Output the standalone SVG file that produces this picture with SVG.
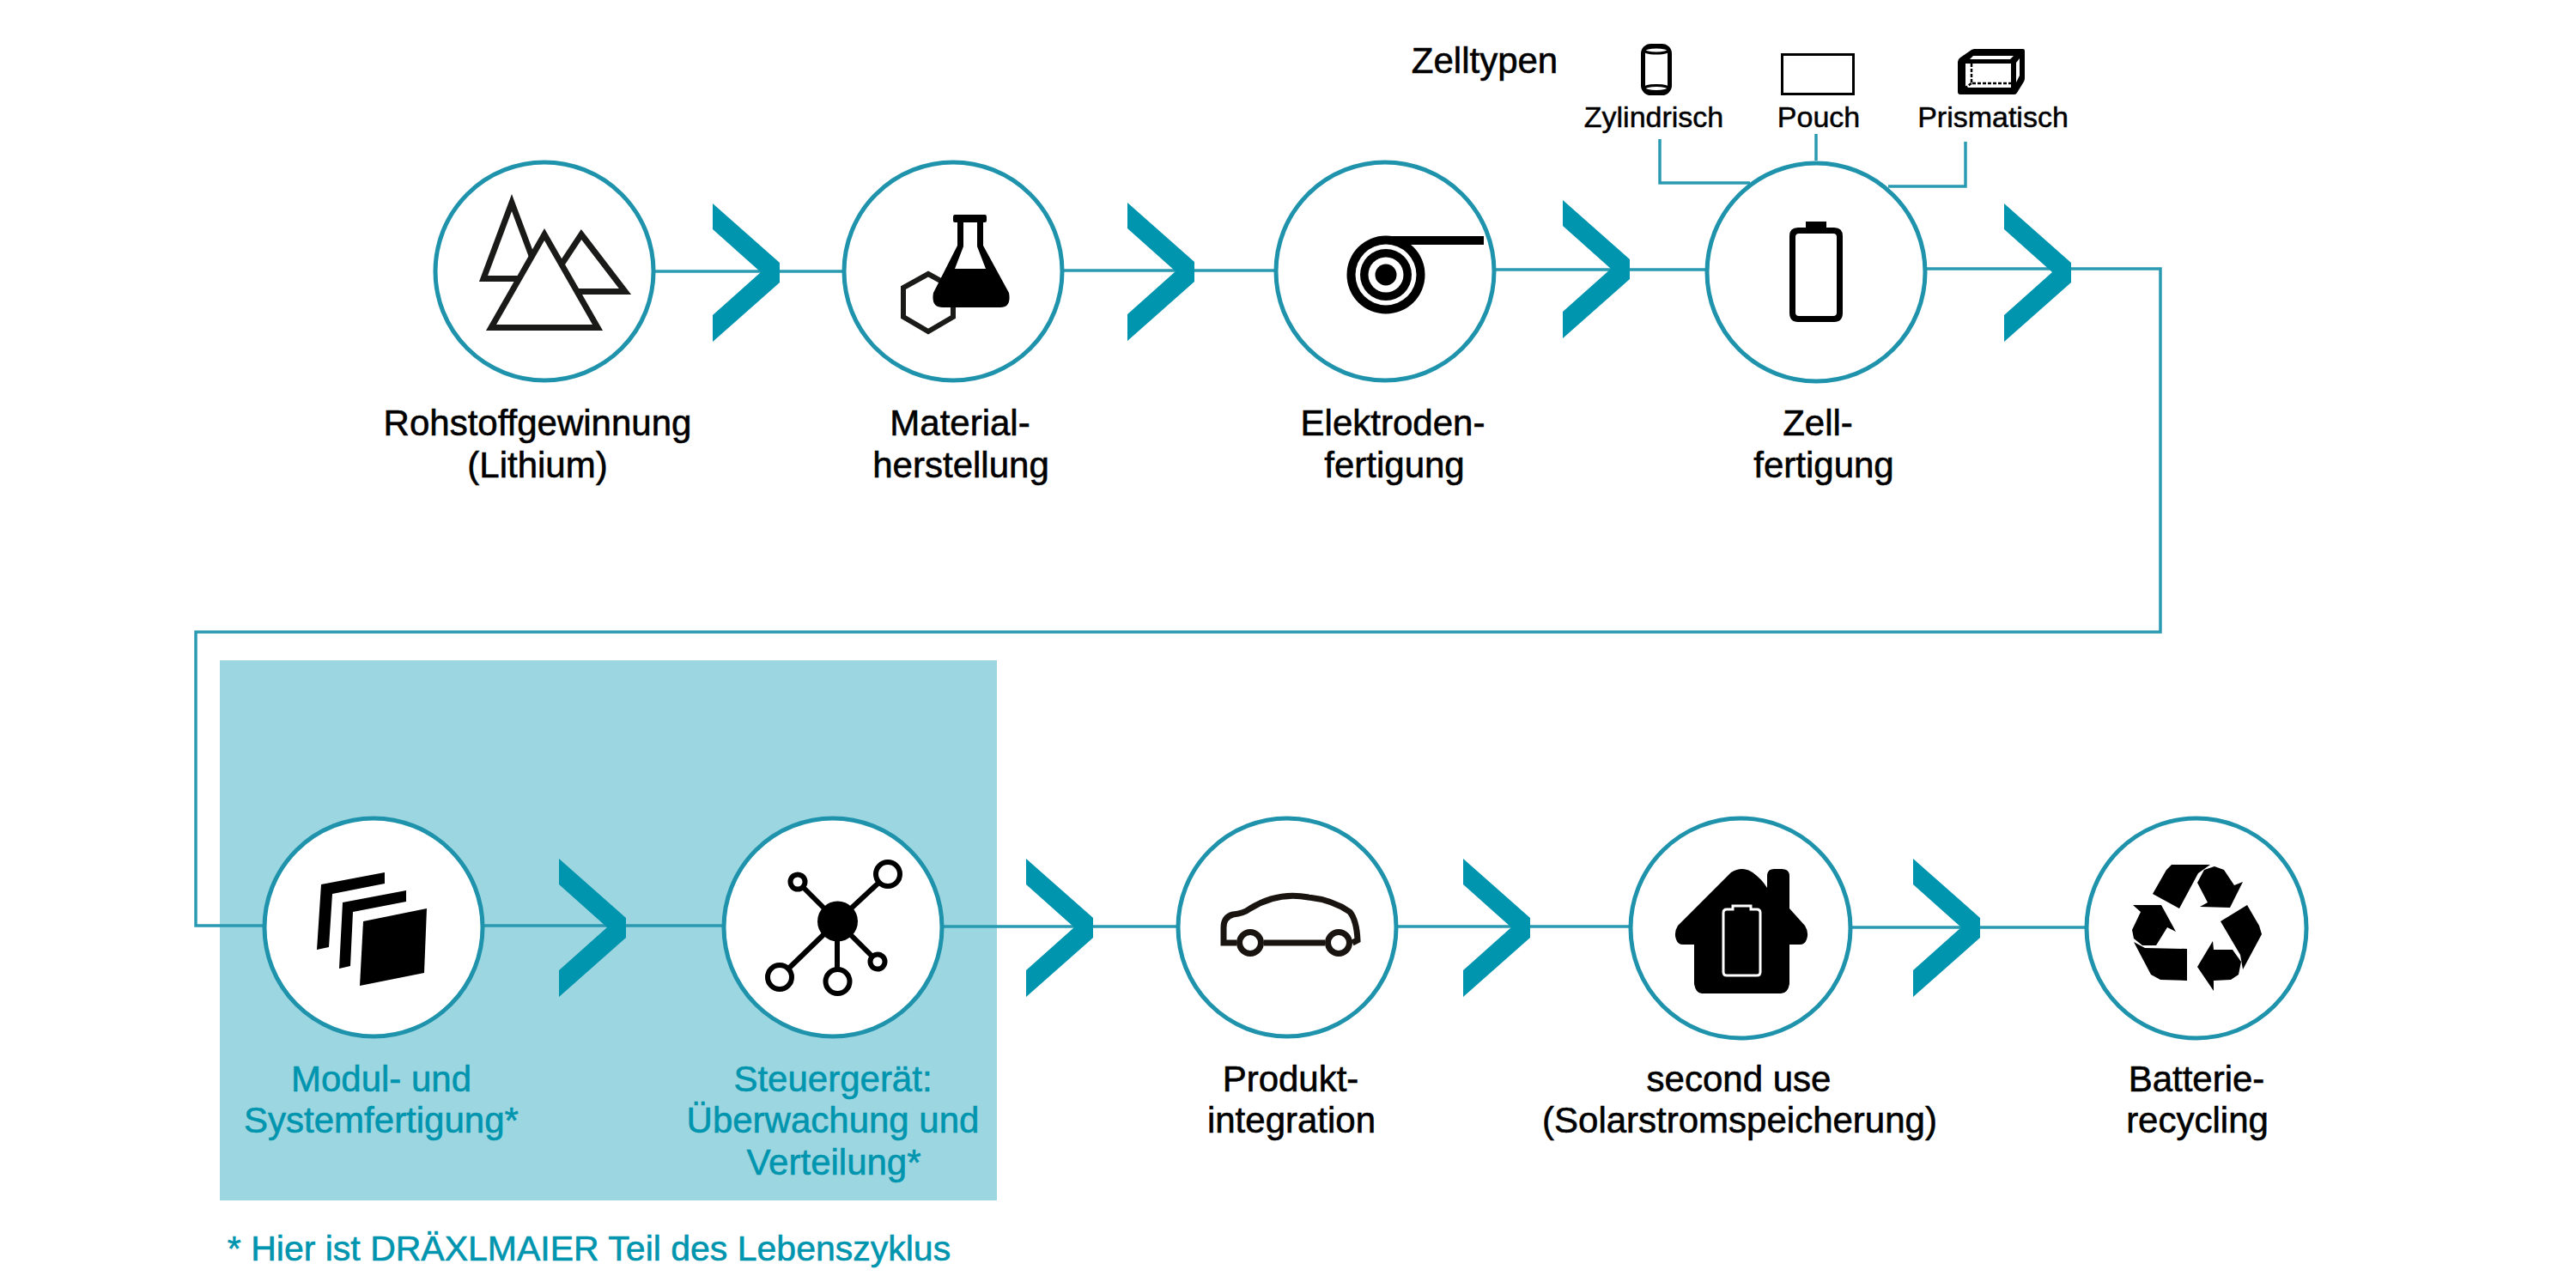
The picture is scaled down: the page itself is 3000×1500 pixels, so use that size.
<svg xmlns="http://www.w3.org/2000/svg" width="3000" height="1500" viewBox="0 0 3000 1500">
<style>
text{font-family:"Liberation Sans",Arial,sans-serif;text-anchor:middle}
.l{font-size:42px;fill:#000;stroke:#000;stroke-width:.6}
.t{font-size:42px;fill:#0095AF;stroke:#0095AF;stroke-width:.6}
.f{font-size:41px;fill:#0095AF;stroke:#0095AF;stroke-width:.6}
.s{font-size:34px;fill:#000;stroke:#000;stroke-width:.5}
.ring{fill:#fff;stroke:#1F93AC;stroke-width:5}
.line{fill:none;stroke:#2A9AB2;stroke-width:3.500}
.chev{fill:#0095AF}
.ol{fill:#fff;stroke:#1a1a18;stroke-width:7;stroke-miterlimit:12}
.k{fill:#000}
.ks{fill:#fff;stroke:#000}
</style>
<defs>
<polygon id="c" class="chev" points="0,-80 78,-11 78,12 0,81 0,50 56,0 0,-50"/>
</defs>
<rect id="highlight" x="256" y="769" width="905" height="629" fill="#9CD6E0"/>
<g id="connectors">
<path class="line" d="M762 316H982M1238 315H1488M1741 314H1988M2243 313H2516V736H228V1078H308M562 1078H842M1097 1079H1372M1627 1079H1900M2155 1080H2430"/>
<path class="line" d="M1933 162V213H2038M2115 156V187M2289 165V217H2199"/>
<use href="#c" x="830" y="317"/>
<use href="#c" x="1313" y="316"/>
<use href="#c" x="1820" y="313"/>
<use href="#c" x="2334" y="317"/>
<use href="#c" x="651" y="1080"/>
<use href="#c" x="1195" y="1080"/>
<use href="#c" x="1704" y="1080"/>
<use href="#c" x="2228" y="1080"/>
</g>
<g id="node-rohstoff">
<circle class="ring" cx="634" cy="316" r="127"/>
<polygon class="ol" points="596,236 563,324.500 629,324.500"/>
<polygon class="ol" points="677,273 728,339.500 633,339.500"/>
<polygon class="ol" points="634,273 696,381.500 572,381.500"/>
<text class="l" x="626" y="507">Rohstoffgewinnung</text>
<text class="l" x="626" y="556">(Lithium)</text>
</g>
<g id="node-material">
<circle class="ring" cx="1110" cy="316" r="127"/>
<polygon points="1081,319 1110,335 1110,369 1081,386 1052,369 1052,335" fill="none" stroke="#1a1a18" stroke-width="6"/>
<path class="k" d="M1112 250H1147Q1149 250 1149 253V257Q1149 259 1147 259H1145V286L1175 341Q1178 358 1165 358H1098Q1084 358 1087 341L1115 286V259H1112Q1110 259 1110 257V253Q1110 250 1112 250Z"/>
<path d="M1122 259H1138V287L1148 313H1112L1122 287Z" fill="#fff"/>
<text class="l" x="1118" y="507">Material-</text>
<text class="l" x="1119" y="556">herstellung</text>
</g>
<g id="node-elektroden">
<circle class="ring" cx="1613" cy="316" r="127"/>
<rect class="k" x="1613" y="275" width="115" height="10"/>
<circle class="k" cx="1614" cy="320" r="45.500"/>
<circle fill="#fff" cx="1614" cy="320" r="35.500"/>
<circle class="k" cx="1614" cy="320" r="30"/>
<circle fill="#fff" cx="1614" cy="320" r="20.500"/>
<circle class="k" cx="1614" cy="320" r="12.500"/>
<text class="l" x="1622" y="507">Elektroden-</text>
<text class="l" x="1624" y="556">fertigung</text>
</g>
<g id="node-zell">
<circle class="ring" cx="2115" cy="317" r="127"/>
<path class="k" d="M2103 258H2127V265H2136Q2146 265 2146 275V364Q2146 375 2136 375H2094Q2084 375 2084 364V275Q2084 265 2094 265H2103Z"/>
<rect x="2091" y="272" width="48" height="96" rx="4" fill="#fff"/>
<text class="l" x="2117" y="507">Zell-</text>
<text class="l" x="2124" y="556">fertigung</text>
</g>
<g id="zelltypen">
<text class="l" x="1729" y="85">Zelltypen</text>
<g id="typ-zylindrisch">
<rect x="1913.500" y="53.500" width="31" height="55" rx="9" fill="#fff" stroke="#000" stroke-width="5"/>
<ellipse cx="1929" cy="58.500" rx="14" ry="3.500" fill="#fff" stroke="#000" stroke-width="3"/>
<ellipse cx="1929" cy="103" rx="14" ry="3.500" fill="#fff" stroke="#000" stroke-width="3"/>
<text class="s" x="1926" y="148">Zylindrisch</text>
</g>
<g id="typ-pouch">
<rect x="2075.500" y="63.500" width="83" height="46" fill="#fff" stroke="#000" stroke-width="3"/>
<text class="s" x="2118" y="148">Pouch</text>
</g>
<g id="typ-prismatisch">
<path class="k" d="M2280 72Q2280 69 2283 67L2296 58Q2298 57 2300 57H2356Q2358 57 2358 59V91Q2358 93 2357 95L2349 108Q2348 110 2346 110H2283Q2280 110 2280 107Z"/>
<rect x="2289" y="74" width="53" height="28" fill="#fff"/>
<polygon points="2298,65 2345,65 2341,69 2294,69" fill="#fff"/>
<polygon points="2348,73 2352,68 2352,88 2348,96" fill="#fff"/>
<path d="M2296 74V97H2342M2296 97L2289 102" fill="none" stroke="#000" stroke-width="2.500" stroke-dasharray="4 2"/>
<text class="s" x="2321" y="148">Prismatisch</text>
</g>
</g>
<g id="node-modul">
<circle class="ring" cx="435" cy="1080" r="127"/>
<polygon class="k" points="374,1030 448,1016 448,1029 387,1041 383,1103 369,1106"/>
<polygon class="k" points="399,1051 473,1037 473,1050 411,1062 408,1125 395,1128"/>
<polygon class="k" points="423,1073 497,1058 494,1133 419,1148"/>
<text class="t" x="444" y="1271">Modul- und</text>
<text class="t" x="444" y="1319">Systemfertigung*</text>
</g>
<g id="node-steuergeraet">
<circle class="ring" cx="970" cy="1080" r="127"/>
<path d="M975 1073L1034 1018M975 1073L929 1027M975 1073L908 1138M975 1073V1143M975 1073L1022 1120" stroke="#000" stroke-width="6" fill="none"/>
<circle class="k" cx="975.500" cy="1073" r="23.500"/>
<circle class="ks" stroke-width="6" cx="1034" cy="1018" r="14"/>
<circle class="ks" stroke-width="6" cx="929" cy="1027" r="8.500"/>
<circle class="ks" stroke-width="6" cx="908" cy="1138" r="14"/>
<circle class="ks" stroke-width="6" cx="975.500" cy="1143" r="14"/>
<circle class="ks" stroke-width="6" cx="1022" cy="1120" r="8.500"/>
<text class="t" x="970" y="1271">Steuergerät:</text>
<text class="t" x="970" y="1319">Überwachung und</text>
<text class="t" x="971" y="1368">Verteilung*</text>
</g>
<g id="node-produkt">
<circle class="ring" cx="1499" cy="1080" r="127"/>
<path d="M1440 1098H1425V1080Q1425 1068 1436 1065Q1448 1064 1456 1058Q1488 1038 1524 1045Q1552 1048 1572 1062Q1580 1072 1581 1095L1575 1098M1472 1098H1543" fill="none" stroke="#1a1410" stroke-width="7"/>
<circle cx="1456" cy="1098" r="12.500" fill="#fff" stroke="#1a1410" stroke-width="7"/>
<circle cx="1559" cy="1098" r="12.500" fill="#fff" stroke="#1a1410" stroke-width="7"/>
<text class="l" x="1503" y="1271">Produkt-</text>
<text class="l" x="1504" y="1319">integration</text>
</g>
<g id="node-secondlife">
<circle class="ring" cx="2027" cy="1081" r="128"/>
<path class="k" d="M2016 1016Q2029 1008 2041 1016Q2052 1024 2058 1034V1020Q2058 1012 2066 1012H2075Q2084 1012 2084 1020V1058L2102 1078Q2107 1086 2104 1094Q2102 1100 2096 1100H2084V1146Q2082 1157 2074 1157H1982Q1975 1157 1973 1146V1100H1960Q1954 1100 1952 1094Q1949 1086 1954 1078Z"/>
<path d="M2018 1059V1055H2039V1059H2046Q2050 1059 2050 1063V1132Q2050 1136 2046 1136H2011Q2007 1136 2007 1132V1063Q2007 1059 2011 1059Z" fill="none" stroke="#fff" stroke-width="3"/>
<text class="l" x="2025" y="1271">second use</text>
<text class="l" x="2026" y="1319">(Solarstromspeicherung)</text>
</g>
<g id="node-recycling">
<circle class="ring" cx="2558" cy="1081" r="128"/>
<polygon class="k" points="2529,1007 2574,1007 2560,1017 2538,1058 2507,1041 2523,1013"/>
<polygon class="k" points="2559,1028 2567,1013 2579,1009 2590,1013 2602,1031 2612,1027 2597,1057 2562,1056 2571,1051"/>
<polygon class="k" points="2617,1054 2631,1078 2634,1088 2612,1129 2609,1112 2586,1073"/>
<polygon class="k" points="2577,1096 2578,1106 2600,1106 2610,1120 2607,1135 2598,1141 2578,1142 2578,1154 2559,1126"/>
<polygon class="k" points="2485,1097 2498,1104 2547,1105 2547,1142 2516,1141 2505,1135"/>
<polygon class="k" points="2484,1054 2517,1054 2534,1085 2524,1080 2511,1101 2495,1101 2485,1093 2483,1083 2493,1062"/>
<text class="l" x="2558" y="1271">Batterie-</text>
<text class="l" x="2559" y="1319">recycling</text>
</g>
<text id="footnote" class="f" x="686" y="1468">* Hier ist DRÄXLMAIER Teil des Lebenszyklus</text>
</svg>
